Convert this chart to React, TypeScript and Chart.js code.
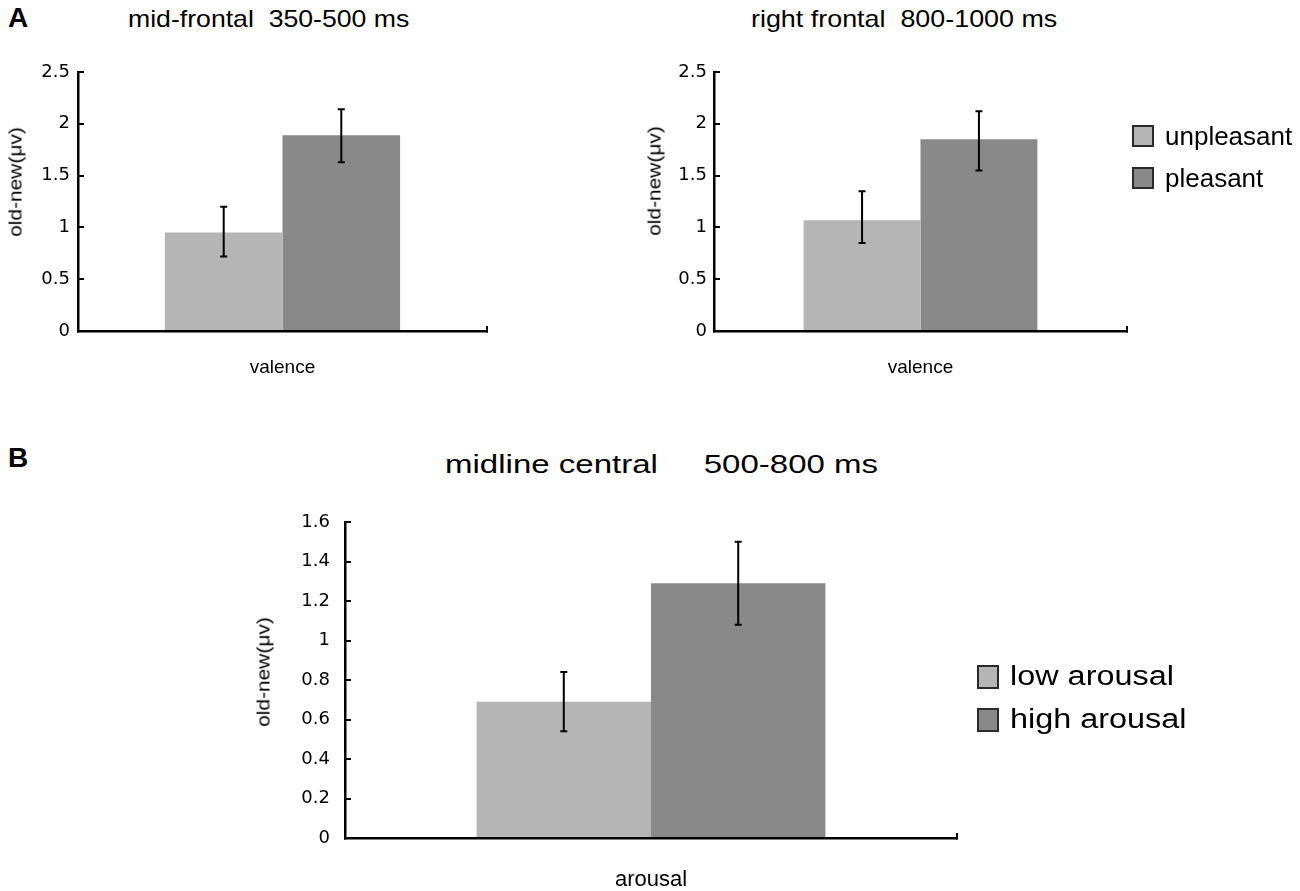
import { useEffect, useRef } from "react"
import { Chart, registerables } from "chart.js"

Chart.register(...registerables)

// panel A
const valenceCategories = ["valence"]
const valenceSeries = ["unpleasant", "pleasant"]
const midFrontalMeans = [0.95, 1.89]
const midFrontalUpper = [1.2, 2.14]
const midFrontalLower = [0.72, 1.63]
const rightFrontalMeans = [1.07, 1.85]
const rightFrontalUpper = [1.35, 2.12]
const rightFrontalLower = [0.85, 1.55]
const valenceTicks = [0, 0.5, 1, 1.5, 2, 2.5]

// panel B
const arousalCategories = ["arousal"]
const arousalSeries = ["low arousal", "high arousal"]
const centralMeans = [0.69, 1.29]
const centralUpper = [0.84, 1.5]
const centralLower = [0.54, 1.08]
const arousalTicks = [0, 0.2, 0.4, 0.6, 0.8, 1, 1.2, 1.4, 1.6]

const seriesColors = ["#b5b5b5", "#898989"]

function makeErrorBars(upper: number[], lower: number[]) {
  return {
    id: "errorBars",
    afterDatasetsDraw(chart: any) {
      const ctx = chart.ctx
      const y = chart.scales.y
      ctx.save()
      ctx.strokeStyle = "#000"
      ctx.lineWidth = 2
      chart.data.datasets.forEach((_: any, i: number) => {
        chart.getDatasetMeta(i).data.forEach((bar: any) => {
          const x = bar.x
          const yHi = y.getPixelForValue(upper[i])
          const yLo = y.getPixelForValue(lower[i])
          ctx.beginPath()
          ctx.moveTo(x, yHi)
          ctx.lineTo(x, yLo)
          ctx.moveTo(x - 3.5, yHi)
          ctx.lineTo(x + 3.5, yHi)
          ctx.moveTo(x - 3.5, yLo)
          ctx.lineTo(x + 3.5, yLo)
          ctx.stroke()
        })
      })
      ctx.restore()
    },
  }
}

type PanelProps = {
  left: number
  top: number
  width: number
  height: number
  yWidth: number
  padTop: number
  padRight: number
  plotBottom: number
  categories: string[]
  series: string[]
  means: number[]
  upper: number[]
  lower: number[]
  ticks: number[]
  tickSize: number
  tickPadding: number
  labelSize: number
  labelPadding: number
  categoryPercentage: number
}

function BarPanel(p: PanelProps) {
  const canvasRef = useRef<HTMLCanvasElement>(null)

  useEffect(() => {
    if (!canvasRef.current) return
    const ctx = canvasRef.current.getContext("2d")
    if (!ctx) return

    const chart = new Chart(ctx, {
      type: "bar",
      data: {
        labels: p.categories,
        datasets: p.series.map((name, i) => ({
          label: name,
          data: [p.means[i]],
          backgroundColor: seriesColors[i],
          borderWidth: 0,
          barPercentage: 1,
          categoryPercentage: p.categoryPercentage,
        })),
      },
      options: {
        responsive: false,
        animation: false,
        layout: { padding: { top: p.padTop, right: p.padRight, left: 0, bottom: 0 } },
        plugins: {
          legend: { display: false },
          title: { display: false },
          tooltip: { enabled: false },
        },
        scales: {
          x: {
            z: 1,
            border: { display: true, color: "#000", width: 2.5 },
            grid: {
              display: true,
              drawOnChartArea: false,
              drawTicks: true,
              tickLength: -5,
              color: "#000",
              lineWidth: 2,
            },
            ticks: {
              color: "#000",
              padding: p.labelPadding,
              font: { family: "Liberation Sans", size: p.labelSize },
            },
            afterFit: (scale: any) => {
              scale.height = p.height - p.plotBottom
            },
          },
          y: {
            z: 1,
            min: 0,
            max: p.ticks[p.ticks.length - 1],
            border: { display: true, color: "#000", width: 2.5 },
            grid: {
              display: true,
              drawOnChartArea: false,
              drawTicks: true,
              tickLength: -6,
              color: "#000",
              lineWidth: 2,
            },
            afterBuildTicks: (scale: any) => {
              scale.ticks = p.ticks.map((v) => ({ value: v }))
            },
            ticks: {
              color: "#000",
              padding: p.tickPadding,
              font: { family: "DejaVu Sans", size: p.tickSize },
              callback: (v: any) => String(v),
            },
            afterFit: (scale: any) => {
              scale.width = p.yWidth
            },
          },
        },
      },
      plugins: [makeErrorBars(p.upper, p.lower)],
    })

    return () => chart.destroy()
  }, [])

  return (
    <canvas
      ref={canvasRef}
      width={p.width}
      height={p.height}
      style={{ position: "absolute", left: p.left, top: p.top, width: p.width, height: p.height }}
    />
  )
}

function Text(props: { left: number; top: number; size: number; sx?: number; bold?: boolean; children: string }) {
  return (
    <div
      style={{
        position: "absolute",
        left: props.left,
        top: props.top,
        fontSize: props.size,
        lineHeight: 1,
        fontWeight: props.bold ? "bold" : "normal",
        whiteSpace: "pre",
        transform: `scaleX(${props.sx ?? 1})`,
        transformOrigin: "left top",
      }}
    >
      {props.children}
    </div>
  )
}

function YLabel(props: { cx: number; cy: number }) {
  return (
    <div
      style={{
        position: "absolute",
        left: props.cx,
        top: props.cy,
        fontSize: 19,
        lineHeight: 1,
        whiteSpace: "nowrap",
        transform: "translate(-50%, -50%) rotate(-90deg) scaleX(1.1)",
      }}
    >
      old-new(μv)
    </div>
  )
}

function Legend(props: {
  left: number
  top: number
  gap: number
  boxW: number
  boxH: number
  size: number
  sx: number
  series: string[]
}) {
  return (
    <>
      {props.series.map((name, i) => (
        <div
          key={name}
          style={{
            position: "absolute",
            left: props.left,
            top: props.top + i * props.gap,
            display: "flex",
            alignItems: "center",
          }}
        >
          <div
            style={{
              width: props.boxW,
              height: props.boxH,
              boxSizing: "border-box",
              border: "2px solid #2a2a2a",
              background: seriesColors[i],
            }}
          />
          <div
            style={{
              marginLeft: 11,
              fontSize: props.size,
              lineHeight: 1,
              whiteSpace: "nowrap",
              transform: `scaleX(${props.sx})`,
              transformOrigin: "left center",
            }}
          >
            {name}
          </div>
        </div>
      ))}
    </>
  )
}

export default function App() {
  return (
    <div
      style={{
        position: "absolute",
        left: 0,
        top: 0,
        width: 1300,
        height: 891,
        background: "#fff",
        fontFamily: "Liberation Sans, Arial, sans-serif",
        color: "#000",
        overflow: "hidden",
      }}
    >
      <BarPanel
        left={0}
        top={40}
        width={500}
        height={345}
        yWidth={78}
        padTop={32}
        padRight={13}
        plotBottom={291}
        categories={valenceCategories}
        series={valenceSeries}
        means={midFrontalMeans}
        upper={midFrontalUpper}
        lower={midFrontalLower}
        ticks={valenceTicks}
        tickSize={18}
        tickPadding={14}
        labelSize={19}
        labelPadding={30}
        categoryPercentage={0.575}
      />
      <BarPanel
        left={620}
        top={40}
        width={520}
        height={345}
        yWidth={94}
        padTop={32}
        padRight={13}
        plotBottom={291}
        categories={valenceCategories}
        series={valenceSeries}
        means={rightFrontalMeans}
        upper={rightFrontalUpper}
        lower={rightFrontalLower}
        ticks={valenceTicks}
        tickSize={18}
        tickPadding={13}
        labelSize={19}
        labelPadding={30}
        categoryPercentage={0.566}
      />
      <BarPanel
        left={240}
        top={490}
        width={740}
        height={400}
        yWidth={105}
        padTop={32}
        padRight={23}
        plotBottom={348}
        categories={arousalCategories}
        series={arousalSeries}
        means={centralMeans}
        upper={centralUpper}
        lower={centralLower}
        ticks={arousalTicks}
        tickSize={18}
        tickPadding={21}
        labelSize={22}
        labelPadding={34}
        categoryPercentage={0.57}
      />

      <Text left={8} top={4} size={28} bold>A</Text>
      <Text left={8} top={444} size={28} bold>B</Text>
      <Text left={128} top={7} size={24} sx={1.11}>{"mid-frontal  350-500 ms"}</Text>
      <Text left={751} top={7} size={24} sx={1.12}>{"right frontal  800-1000 ms"}</Text>
      <Text left={445} top={451} size={26} sx={1.27}>{"midline central     500-800 ms"}</Text>

      <YLabel cx={15} cy={182} />
      <YLabel cx={654} cy={181} />
      <YLabel cx={263} cy={672} />

      <Legend left={1132} top={123} gap={42} boxW={22} boxH={22} size={26} sx={1} series={valenceSeries} />
      <Legend left={977} top={663} gap={43} boxW={22} boxH={24} size={27} sx={1.2} series={arousalSeries} />
    </div>
  )
}
